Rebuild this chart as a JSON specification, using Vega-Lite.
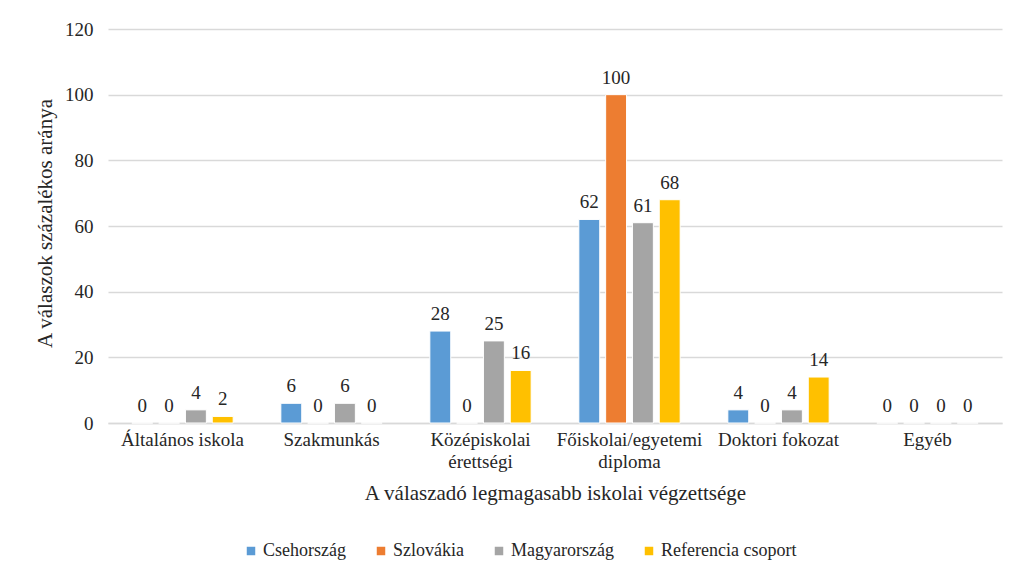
{
  "$schema": "https://vega.github.io/schema/vega-lite/v6.json",
  "autosize": {"type": "none"},
  "padding": {"left": 108, "top": 29, "right": 19, "bottom": 155},
  "width": 894,
  "height": 394,
  "background": "white",
  "data": {
    "values": [
      {"cat": "Általános iskola", "series": "Csehország", "value": 0},
      {"cat": "Általános iskola", "series": "Szlovákia", "value": 0},
      {"cat": "Általános iskola", "series": "Magyarország", "value": 4},
      {"cat": "Általános iskola", "series": "Referencia csoport", "value": 2},
      {"cat": "Szakmunkás", "series": "Csehország", "value": 6},
      {"cat": "Szakmunkás", "series": "Szlovákia", "value": 0},
      {"cat": "Szakmunkás", "series": "Magyarország", "value": 6},
      {"cat": "Szakmunkás", "series": "Referencia csoport", "value": 0},
      {"cat": "Középiskolai érettségi", "series": "Csehország", "value": 28},
      {"cat": "Középiskolai érettségi", "series": "Szlovákia", "value": 0},
      {"cat": "Középiskolai érettségi", "series": "Magyarország", "value": 25},
      {"cat": "Középiskolai érettségi", "series": "Referencia csoport", "value": 16},
      {"cat": "Főiskolai/egyetemi diploma", "series": "Csehország", "value": 62},
      {"cat": "Főiskolai/egyetemi diploma", "series": "Szlovákia", "value": 100},
      {"cat": "Főiskolai/egyetemi diploma", "series": "Magyarország", "value": 61},
      {"cat": "Főiskolai/egyetemi diploma", "series": "Referencia csoport", "value": 68},
      {"cat": "Doktori fokozat", "series": "Csehország", "value": 4},
      {"cat": "Doktori fokozat", "series": "Szlovákia", "value": 0},
      {"cat": "Doktori fokozat", "series": "Magyarország", "value": 4},
      {"cat": "Doktori fokozat", "series": "Referencia csoport", "value": 14},
      {"cat": "Egyéb", "series": "Csehország", "value": 0},
      {"cat": "Egyéb", "series": "Szlovákia", "value": 0},
      {"cat": "Egyéb", "series": "Magyarország", "value": 0},
      {"cat": "Egyéb", "series": "Referencia csoport", "value": 0}
    ]
  },
  "encoding": {
    "x": {
      "field": "cat",
      "type": "nominal",
      "sort": ["Általános iskola", "Szakmunkás", "Középiskolai érettségi", "Főiskolai/egyetemi diploma", "Doktori fokozat", "Egyéb"],
      "scale": {"paddingInner": 0.32, "paddingOuter": 0.16},
      "axis": {
        "title": "A válaszadó legmagasabb iskolai végzettsége",
        "labelAngle": 0,
        "labelPadding": 7,
        "labelFontSize": 19,
        "labelLineHeight": 22,
        "labelExpr": "datum.label == 'Középiskolai érettségi' ? ['Középiskolai', 'érettségi'] : datum.label == 'Főiskolai/egyetemi diploma' ? ['Főiskolai/egyetemi', 'diploma'] : datum.label",
        "ticks": false,
        "domainColor": "#D9D9D9",
        "domainWidth": 1.5,
        "titleFontSize": 21,
        "titleFontWeight": "normal",
        "titleBaseline": "middle",
        "titleY": 70
      }
    },
    "xOffset": {
      "field": "series",
      "type": "nominal",
      "sort": ["Csehország", "Szlovákia", "Magyarország", "Referencia csoport"],
      "scale": {"paddingInner": 0.22, "paddingOuter": 0}
    },
    "y": {
      "field": "value",
      "type": "quantitative",
      "scale": {"domain": [0, 120]},
      "axis": {
        "title": "A válaszok százalékos aránya",
        "values": [0, 20, 40, 60, 80, 100, 120],
        "ticks": false,
        "domain": false,
        "labelPadding": 15,
        "labelFontSize": 19,
        "gridColor": "#D9D9D9",
        "gridWidth": 1.5,
        "titleFontSize": 21,
        "titleFontWeight": "normal",
        "titleX": -63,
        "titleY": 194,
        "titleBaseline": "middle"
      }
    }
  },
  "layer": [
    {
      "mark": {"type": "bar", "stroke": "white", "strokeWidth": 1},
      "encoding": {
        "color": {
          "field": "series",
          "type": "nominal",
          "scale": {
            "domain": ["Csehország", "Szlovákia", "Magyarország", "Referencia csoport"],
            "range": ["#5B9BD5", "#ED7D31", "#A5A5A5", "#FFC000"]
          },
          "legend": {
            "title": null,
            "orient": "none",
            "direction": "horizontal",
            "legendX": 134,
            "legendY": 513,
            "symbolType": "square",
            "symbolSize": 72,
            "symbolStrokeWidth": 0,
            "labelFontSize": 18,
            "labelFont": "Liberation Serif",
            "labelOffset": 3,
            "columnPadding": 26
          }
        }
      }
    },
    {
      "mark": {"type": "text", "baseline": "alphabetic", "dy": -11, "fontSize": 19, "font": "Liberation Serif", "color": "#262626"},
      "encoding": {
        "text": {"field": "value", "type": "quantitative"}
      }
    }
  ],
  "config": {
    "font": "Liberation Serif",
    "view": {"stroke": null},
    "axis": {"labelColor": "#262626", "titleColor": "#262626", "labelFont": "Liberation Serif", "titleFont": "Liberation Serif"},
    "legend": {"labelColor": "#262626", "labelFont": "Liberation Serif"}
  }
}
